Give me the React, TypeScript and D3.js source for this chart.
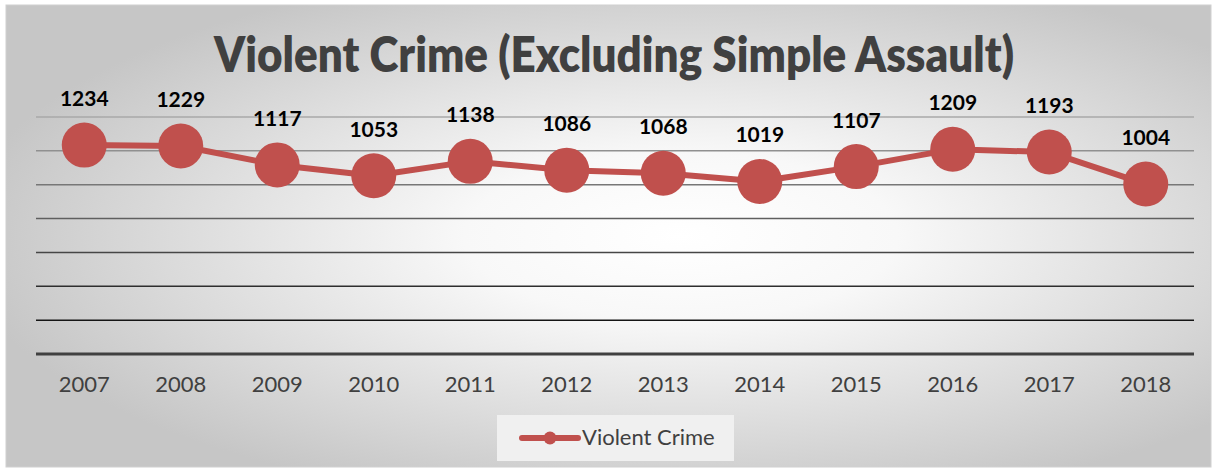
import React from "react";
import * as d3 from "d3";

const years = ["2007","2008","2009","2010","2011","2012","2013","2014","2015","2016","2017","2018"];
const violentCrime = [1234,1229,1117,1053,1138,1086,1068,1019,1107,1209,1193,1004];
const yTicks = [0,200,400,600,800,1000,1200,1400];
const title = "Violent Crime (Excluding Simple Assault)";
const seriesName = "Violent Crime";

const W = 1217, H = 472;
const plot = { left: 36, right: 1194, top: 117, bottom: 354 };
const RED = "#c0504d";

export default function App() {
  const x = d3.scaleBand<string>().domain(years).range([plot.left, plot.right]);
  const y = d3.scaleLinear().domain([0, 1400]).range([plot.bottom, plot.top]);
  const cx = (d: string) => (x(d) as number) + x.bandwidth() / 2;
  const line = d3.line<number>().x((_, i) => cx(years[i])).y((v) => y(v));
  const gridColor = d3.scaleLinear<string>().domain([1400, 200]).range(["#a8a8a8", "#151515"]);
  const font = "Lato, Calibri, Carlito, sans-serif";

  return (
    <svg width={W} height={H} style={{ position: "absolute", left: 0, top: 0 }}>
      <defs>
        <radialGradient id="bg" cx="0.56" cy="0.5" r="0.6" gradientUnits="objectBoundingBox">
          <stop offset="0" stopColor="#ffffff" />
          <stop offset="0.3" stopColor="#f8f8f8" />
          <stop offset="1" stopColor="#c6c6c6" />
        </radialGradient>
      </defs>
      <rect x={0} y={0} width={W} height={H} fill="#ffffff" />
      <rect x={6} y={5} width={1205} height={462} fill="url(#bg)" stroke="#d0d0d0" strokeWidth={1} />
      <text x={614} y={72} textAnchor="middle" fontFamily={font} fontWeight={800} fontSize={49}
        fill="#404040" textLength={800} lengthAdjust="spacingAndGlyphs">{title}</text>
      {yTicks.filter((t) => t > 0).map((t) => (
        <line key={t} x1={plot.left} x2={plot.right} y1={y(t)} y2={y(t)} stroke={gridColor(t)} strokeWidth={1.5} />
      ))}
      <line x1={plot.left} x2={plot.right} y1={y(0)} y2={y(0)} stroke="#404040" strokeWidth={3} />
      {years.map((yr) => (
        <text key={yr} x={cx(yr)} y={392} textAnchor="middle" fontFamily={font} fontSize={22} fill="#404040">{yr}</text>
      ))}
      <path d={line(violentCrime) || ""} fill="none" stroke={RED} strokeWidth={6} strokeLinejoin="round" />
      {violentCrime.map((v, i) => (
        <circle key={i} cx={cx(years[i])} cy={y(v)} r={22.5} fill={RED} />
      ))}
      {violentCrime.map((v, i) => (
        <text key={"l" + i} x={cx(years[i])} y={y(v) - 39} textAnchor="middle" fontFamily={font}
          fontWeight={700} fontSize={21} fill="#000">{v}</text>
      ))}
      <rect x={497} y={415} width={237} height={46} fill="#f0f0f0" />
      <line x1={522} x2={578} y1={438} y2={438} stroke={RED} strokeWidth={6} strokeLinecap="round" />
      <circle cx={550} cy={438} r={6.5} fill={RED} />
      <text x={582} y={445} fontFamily={font} fontSize={22} fill="#404040">{seriesName}</text>
    </svg>
  );
}
